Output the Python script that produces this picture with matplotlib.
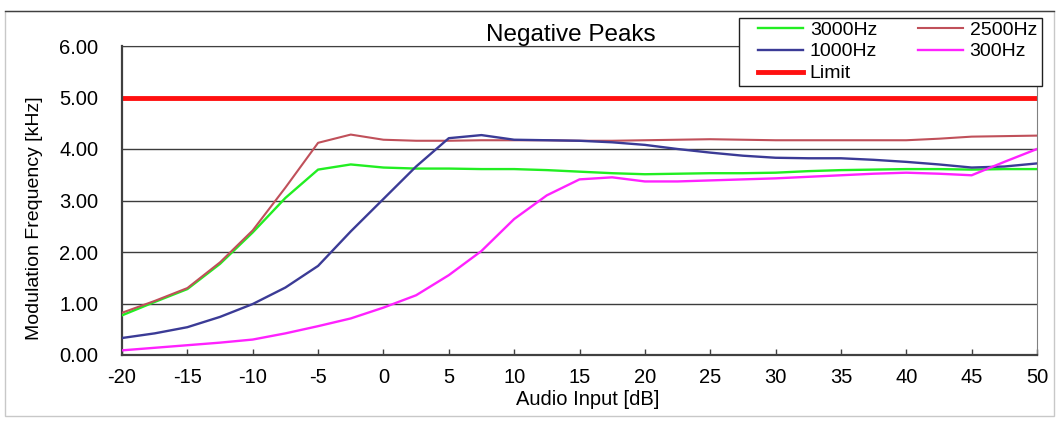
import numpy as np
import matplotlib.pyplot as plt
from matplotlib.patches import Rectangle
from matplotlib.lines import Line2D

plt.rcParams['font.family'] = ['Liberation Sans', 'DejaVu Sans']
plt.rcParams['axes.unicode_minus'] = False

# audio input levels [dB]
audio_db = [-20, -17.5, -15, -12.5, -10, -7.5, -5, -2.5, 0, 2.5, 5, 7.5, 10, 12.5, 15,
            17.5, 20, 22.5, 25, 27.5, 30, 32.5, 35, 37.5, 40, 42.5, 45, 47.5, 50]

# modulation frequency [kHz]
hz3000 = [0.77, 1.03, 1.28, 1.77, 2.38, 3.05, 3.60, 3.70, 3.64, 3.62, 3.62, 3.61, 3.61, 3.59, 3.56,
          3.53, 3.51, 3.52, 3.53, 3.53, 3.54, 3.57, 3.59, 3.60, 3.61, 3.61, 3.60, 3.61, 3.61]
hz2500 = [0.82, 1.05, 1.30, 1.80, 2.42, 3.25, 4.12, 4.28, 4.18, 4.16, 4.16, 4.17, 4.17, 4.17, 4.16,
          4.16, 4.17, 4.18, 4.19, 4.18, 4.17, 4.17, 4.17, 4.17, 4.17, 4.20, 4.24, 4.25, 4.26]
hz1000 = [0.33, 0.42, 0.54, 0.74, 0.99, 1.31, 1.73, 2.40, 3.03, 3.66, 4.21, 4.27, 4.18, 4.17, 4.16,
          4.13, 4.08, 4.00, 3.93, 3.87, 3.83, 3.82, 3.82, 3.79, 3.75, 3.70, 3.64, 3.66, 3.72]
hz300 = [0.09, 0.14, 0.19, 0.24, 0.30, 0.42, 0.56, 0.71, 0.92, 1.16, 1.55, 2.02, 2.64, 3.10, 3.41,
         3.45, 3.37, 3.37, 3.39, 3.41, 3.43, 3.46, 3.49, 3.52, 3.54, 3.52, 3.49, 3.75, 4.00]
limit = [5.0] * len(audio_db)

W, H = 1059, 422
fig = plt.figure(figsize=(W / 100, H / 100), dpi=100)
ax = fig.add_axes([122 / W, 1 - 355 / H, 915 / W, 309 / H])

# outer frame
fig.patches.append(Rectangle((5 / W, 1 - 416 / H), 1049 / W, 405 / H, transform=fig.transFigure,
                             facecolor='none', edgecolor='#c8c8c8', lw=1, zorder=0))
fig.lines.append(Line2D([5 / W, 1054 / W], [1 - 11 / H, 1 - 11 / H], transform=fig.transFigure,
                        color='#404040', lw=1))

ax.grid(axis='y', color='#3c3c3c', lw=1, zorder=1)
ax.set_axisbelow(True)

l3000, = ax.plot(audio_db, hz3000, color='#22ee22', lw=1.7, label='3000Hz', zorder=3)
l2500, = ax.plot(audio_db, hz2500, color='#c0505a', lw=1.5, label='2500Hz', zorder=3)
l1000, = ax.plot(audio_db, hz1000, color='#3b3b96', lw=1.7, label='1000Hz', zorder=3)
l300, = ax.plot(audio_db, hz300, color='#ff22ff', lw=1.7, label='300Hz', zorder=3)
llim, = ax.plot(audio_db, limit, color='#ff1010', lw=3.5, label='Limit', zorder=2)

ax.set_xlim(-20, 50)
ax.set_ylim(0, 6)
ax.set_xticks(range(-20, 51, 5))
ax.set_yticks(range(0, 7))
ax.set_yticklabels([f'{v:.2f}' for v in range(0, 7)])
ax.tick_params(axis='x', direction='in', length=4, width=1, pad=9.5, labelsize=14.5, color='#404040')
ax.tick_params(axis='y', length=0, pad=17, labelsize=14.5)

for side in ['left', 'bottom']:
    ax.spines[side].set_color('#404040')
    ax.spines[side].set_linewidth(1.6)
ax.spines['top'].set_color('#404040')
ax.spines['right'].set_color('#808080')

ax.set_xlabel('Audio Input [dB]', fontsize=14.5)
ax.xaxis.set_label_coords(0.509, -0.112)
ax.set_ylabel('Modulation Frequency [kHz]', fontsize=14)
ax.yaxis.set_label_coords(-0.086, 0.443)

ax.text(0.49, 1.0146, 'Negative Peaks', transform=ax.transAxes, ha='center', va='baseline',
        fontsize=17.5)

# legend box
fig.patches.append(Rectangle((739 / W, 1 - 86 / H), 303 / W, 68 / H, transform=fig.transFigure,
                             facecolor='white', edgecolor='#202020', lw=1, zorder=4))
fig.legend(handles=[l3000, l1000, llim, l2500, l300], ncol=2, loc='upper left',
           bbox_to_anchor=(758 / W, 1 - 21 / H), frameon=False, fontsize=14,
           borderpad=0, borderaxespad=0, handlelength=2.3, handletextpad=0.36,
           columnspacing=2.1, labelspacing=0.22)

fig.savefig('out.png', dpi=100)
